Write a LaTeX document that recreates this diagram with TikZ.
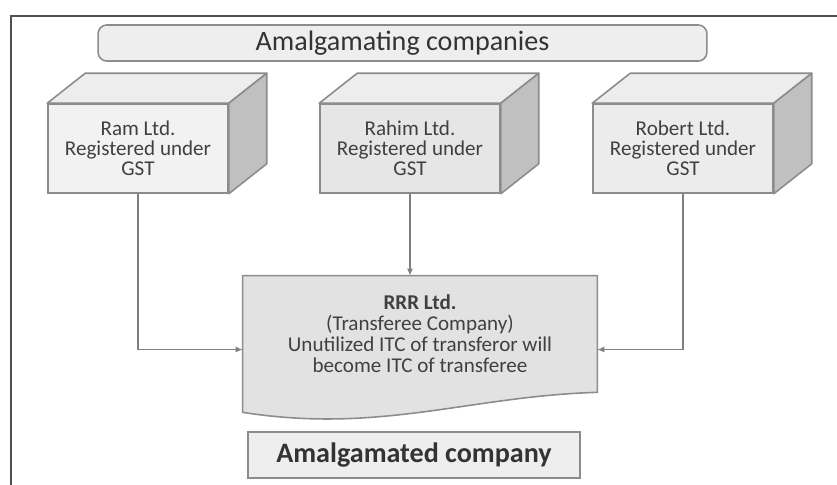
\documentclass[tikz,border=0pt]{standalone}
\usepackage{fontspec}
\setmainfont{Carlito}
\usepackage{tikz}
\usetikzlibrary{arrows.meta,positioning,calc,backgrounds}
\definecolor{FrameGrey}{HTML}{505050}
\definecolor{EdgeGrey}{HTML}{8C8C8C}
\definecolor{LineGrey}{HTML}{7F7F7F}
\definecolor{TextGrey}{HTML}{404040}
\definecolor{FaceLight}{HTML}{F2F2F2}
\definecolor{FaceMid}{HTML}{E6E6E6}
\definecolor{FaceSoft}{HTML}{ECECEC}
\definecolor{TopFace}{HTML}{EDEDED}
\definecolor{SideFace}{HTML}{C0C0C0}
\definecolor{DocFill}{HTML}{E2E2E2}
\definecolor{BoxFill}{HTML}{EEEEEE}
\tikzset{
  % Front face of a cube
  CB/.style={rectangle,draw=EdgeGrey,line width=0.9pt,
             minimum width=3.6cm,minimum height=1.78cm,
             text centered,align=center,text=TextGrey,
             font=\fontsize{12}{11.5}\selectfont},
  % Top and side faces
  cTop/.style={draw=EdgeGrey,line width=0.9pt,fill=TopFace,line join=round},
  cSide/.style={draw=EdgeGrey,line width=0.9pt,fill=SideFace,line join=round},
  % Heading boxes
  HB/.style={rectangle,draw=EdgeGrey,fill=BoxFill,line width=0.9pt,
             text=black!80,font=\fontsize{16}{18}\selectfont},
  % Arrow
  arr/.style={-{Latex[length=4pt,width=3.5pt]},LineGrey,line width=0.8pt}
}

\begin{document}
\begin{tikzpicture}[x=0.02cm,y=0.02cm]
  \useasboundingbox (0,0) rectangle (837,484);
  % Outer frame (only left and top edges show)
  \draw[FrameGrey,line width=1.2pt] (11,-5) -- (11,468) -- (845,468);

  \node[HB,rounded corners=5pt,minimum width=12.18cm,minimum height=0.72cm] (head) at (402.5,441)
    {Amalgamating companies};

  \node[CB,fill=FaceLight] (ram)    at (138,335.5) {Ram Ltd.\\Registered under\\GST};
  \node[CB,fill=FaceMid]   (rahim)  at (410,335.5) {Rahim Ltd.\\Registered under\\GST};
  \node[CB,fill=FaceSoft]  (robert) at (683,335.5) {Robert Ltd.\\Registered under\\GST};
  % Depth of the cubes
  \foreach \c in {ram,rahim,robert}{
    \draw[cTop] (\c.north west) -- ++(38,30) -- ($(\c.north east)+(38,30)$) -- (\c.north east) -- cycle;
    \draw[cSide] (\c.north east) -- ++(38,30) -- ($(\c.south east)+(38,30)$) -- (\c.south east) -- cycle;
  }

  \node[align=center,text=TextGrey,minimum width=7.08cm,minimum height=2.32cm,
        font=\fontsize{12}{12}\selectfont] (rrr) at (420,150)
    {\textbf{RRR Ltd.}\\(Transferee Company)\\Unutilized ITC of transferor will\\become ITC of transferee};
  \begin{scope}[on background layer]
    \draw[draw=EdgeGrey,fill=DocFill,line width=0.9pt]
      (rrr.north west) -- (rrr.north east) -- (rrr.south east)
      .. controls (470,88) and (380,50) .. ($(rrr.south west)+(0,-20)$) -- cycle;
  \end{scope}

  \node[HB,font=\fontsize{16}{18}\bfseries\selectfont,minimum width=6.64cm,minimum height=0.92cm] (merged) at (414,29)
    {Amalgamated company};

  \draw[arr] (ram.south) |- (rrr.185);
  \draw[arr] (rahim.south) -- (rahim.south |- rrr.north);
  \draw[arr] (robert.south) |- (rrr.-5);
\end{tikzpicture}
\end{document}
